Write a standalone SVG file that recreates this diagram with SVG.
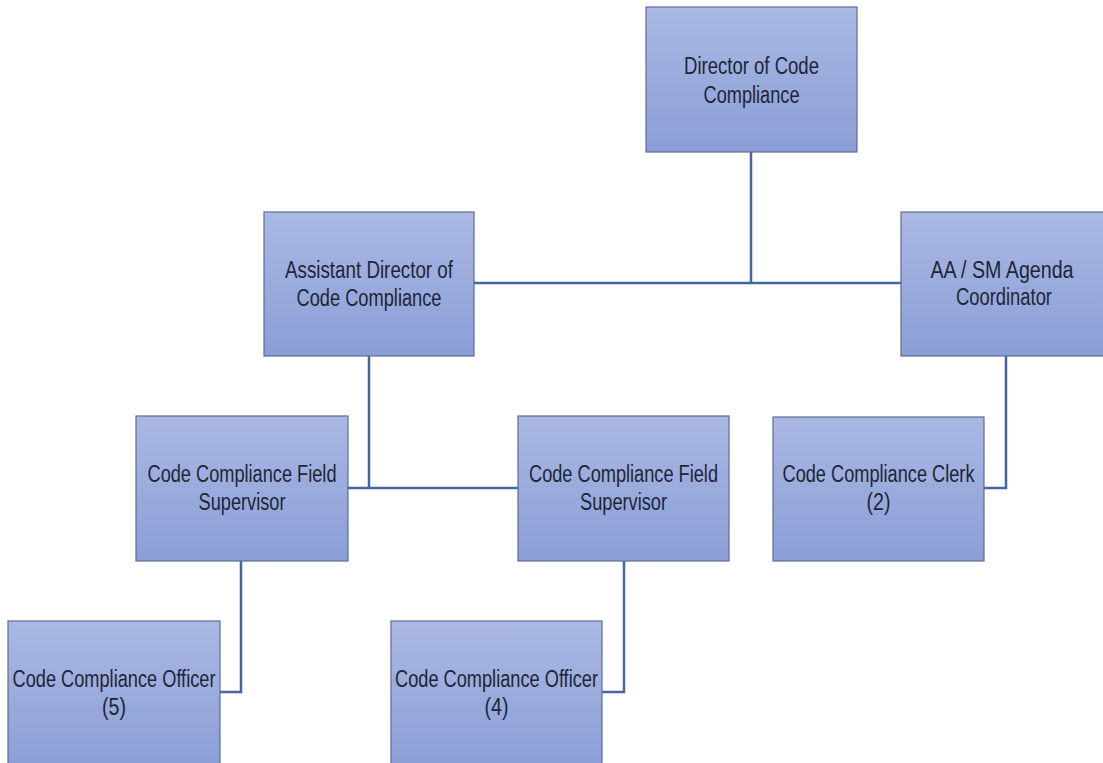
<svg xmlns="http://www.w3.org/2000/svg" width="1103" height="763" viewBox="0 0 1103 763">
<defs>
<linearGradient id="g" x1="0" y1="0" x2="0" y2="1">
<stop offset="0" stop-color="#aab8e3"/>
<stop offset="1" stop-color="#8a9ed7"/>
</linearGradient>
<style>
.box{fill:url(#g);stroke:#5d6d93;stroke-width:1.2}
.t{font-family:"Liberation Sans",Arial,sans-serif;font-size:23px;fill:#1e2636;text-anchor:middle}
.c{fill:none;stroke:#4566a3;stroke-width:2.5}
</style>
</defs>
<rect width="1103" height="763" fill="#ffffff"/>
<g id="connectors">
<polyline class="c" points="751,152 751,283"/>
<polyline class="c" points="474,283 901,283"/>
<polyline class="c" points="369,356 369,488"/>
<polyline class="c" points="348,488 518,488"/>
<polyline class="c" points="1006,356 1006,488 984,488"/>
<polyline class="c" points="241,561 241,692 220,692"/>
<polyline class="c" points="624,561 624,692 602,692"/>
</g>
<g id="director">
<rect class="box" x="646" y="7" width="211" height="145"/>
<text class="t" x="751.5" y="74" textLength="135" lengthAdjust="spacingAndGlyphs">Director of Code</text>
<text class="t" x="751.5" y="103" textLength="96" lengthAdjust="spacingAndGlyphs">Compliance</text>
</g>
<g id="assistant">
<rect class="box" x="264" y="212" width="210" height="144"/>
<text class="t" x="369" y="278" textLength="168" lengthAdjust="spacingAndGlyphs">Assistant Director of</text>
<text class="t" x="369" y="306" textLength="145" lengthAdjust="spacingAndGlyphs">Code Compliance</text>
</g>
<g id="aa-sm">
<rect class="box" x="901" y="212" width="205" height="144"/>
<text class="t" x="1002" y="278" textLength="143" lengthAdjust="spacingAndGlyphs">AA / SM Agenda</text>
<text class="t" x="1004" y="305" textLength="96" lengthAdjust="spacingAndGlyphs">Coordinator</text>
</g>
<g id="supervisor1">
<rect class="box" x="136" y="416" width="212" height="145"/>
<text class="t" x="242" y="482" textLength="189" lengthAdjust="spacingAndGlyphs">Code Compliance Field</text>
<text class="t" x="242" y="510" textLength="87" lengthAdjust="spacingAndGlyphs">Supervisor</text>
</g>
<g id="supervisor2">
<rect class="box" x="518" y="416" width="211" height="145"/>
<text class="t" x="623.5" y="482" textLength="189" lengthAdjust="spacingAndGlyphs">Code Compliance Field</text>
<text class="t" x="623.5" y="510" textLength="87" lengthAdjust="spacingAndGlyphs">Supervisor</text>
</g>
<g id="clerk">
<rect class="box" x="773" y="417" width="211" height="144"/>
<text class="t" x="878.5" y="482" textLength="192" lengthAdjust="spacingAndGlyphs">Code Compliance Clerk</text>
<text class="t" x="878.5" y="510" textLength="24" lengthAdjust="spacingAndGlyphs">(2)</text>
</g>
<g id="officer5">
<rect class="box" x="8" y="621" width="212" height="150"/>
<text class="t" x="114" y="687" textLength="203" lengthAdjust="spacingAndGlyphs">Code Compliance Officer</text>
<text class="t" x="114" y="715" textLength="24" lengthAdjust="spacingAndGlyphs">(5)</text>
</g>
<g id="officer4">
<rect class="box" x="391" y="621" width="211" height="150"/>
<text class="t" x="496.5" y="687" textLength="203" lengthAdjust="spacingAndGlyphs">Code Compliance Officer</text>
<text class="t" x="496.5" y="715" textLength="24" lengthAdjust="spacingAndGlyphs">(4)</text>
</g>
</svg>
